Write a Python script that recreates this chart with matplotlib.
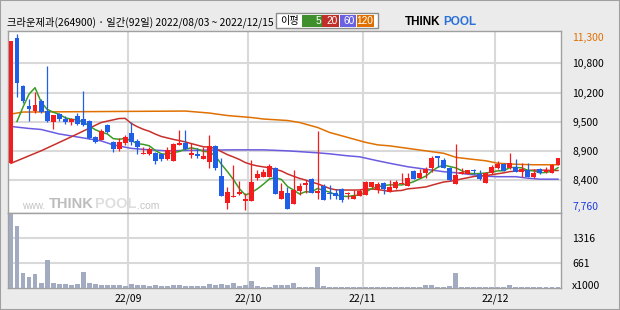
import numpy as np
import pandas as pd
import matplotlib
matplotlib.use("Agg")
import matplotlib.pyplot as plt
from matplotlib.patches import Rectangle

plt.rcParams['font.family'] = ['Noto Sans CJK KR', 'DejaVu Sans']

title = "크라운제과(264900) · 일간(92일) 2022/08/03 ~ 2022/12/15"

# daily candles, 2022/08/03 .. 2022/12/15 (92 trading days)
opens = [8700, 11210, 10250, 9850, 9750, 9950, 9750, 9520, 9690, 9600,
         9540, 9650, 9600, 9560, 9230, 9170, 9460, 9120, 8990, 9110,
         9300, 9150, 8880, 8890, 8900, 8880, 8790, 8750, 9070, 9100,
         8870, 8890, 8790, 8730, 9050, 8450, 7900, 8020, 8080, 7950,
         7950, 8410, 8430, 8430, 8610, 7980, 8110, 7880, 8140, 8260,
         8380, 8110, 8240, 8110, 8100, 8180, 8080, 7980, 8050, 8060,
         8220, 8160, 8310, 8130, 8210, 8280, 8250, 8550, 8410, 8510,
         8610, 8850, 8770, 8610, 8280, 8480, 8480, 8570, 8480, 8310,
         8500, 8610, 8690, 8600, 8630, 8520, 8570, 8430, 8580, 8530,
         8510, 8670]
highs = [11160, 11300, 10270, 9990, 10140, 9990, 10660, 9670, 9710, 9650,
         9620, 9710, 10150, 9570, 9250, 9390, 9480, 9150, 9200, 9270,
         9540, 9190, 9020, 9020, 8930, 8900, 9030, 9100, 9360, 9360,
         9100, 9010, 9030, 9260, 9070, 8810, 8230, 8670, 8350, 8100,
         8770, 8560, 8580, 8680, 8630, 8300, 8230, 8560, 8300, 8360,
         8400, 9340, 8280, 8260, 8180, 8200, 8130, 8160, 8180, 8350,
         8330, 8330, 8330, 8360, 8360, 8510, 8510, 8570, 8580, 8630,
         8850, 8850, 8810, 8630, 9090, 8600, 8570, 8590, 8570, 8530,
         8670, 8750, 8710, 8900, 8780, 8700, 8700, 8580, 8600, 8630,
         8680, 8810]
lows = [8700, 10040, 9910, 9560, 9710, 9710, 9520, 9390, 9560, 9490,
        9460, 9470, 9440, 9180, 9110, 9170, 9300, 8930, 8950, 9070,
        9070, 8890, 8880, 8870, 8680, 8750, 8770, 8750, 9070, 8970,
        8800, 8810, 8790, 8600, 8570, 8050, 7790, 8020, 8060, 7760,
        7950, 8360, 8430, 8430, 8080, 7980, 7780, 7880, 8060, 8100,
        8100, 7990, 7960, 7990, 7980, 7930, 7980, 7980, 8050, 8060,
        8200, 8100, 8080, 8120, 8180, 8280, 8250, 8380, 8410, 8410,
        8520, 8620, 8600, 8350, 8280, 8480, 8480, 8480, 8360, 8310,
        8480, 8580, 8550, 8580, 8520, 8430, 8430, 8410, 8480, 8500,
        8510, 8670]
closes = [11160, 10310, 9960, 9800, 9870, 9740, 9560, 9670, 9590, 9520,
          9590, 9490, 9470, 9200, 9130, 9340, 9320, 8990, 9130, 9220,
          9120, 9020, 8910, 8990, 8750, 8780, 8970, 9080, 9110, 8980,
          8910, 8850, 8850, 9050, 8600, 8050, 8120, 8050, 8120, 7960,
          8320, 8480, 8520, 8650, 8080, 8140, 7780, 8160, 8250, 8310,
          8110, 8140, 7960, 8080, 8050, 7960, 8110, 8050, 8150, 8330,
          8320, 8280, 8180, 8220, 8330, 8310, 8410, 8380, 8510, 8590,
          8810, 8810, 8600, 8360, 8460, 8520, 8570, 8540, 8380, 8510,
          8620, 8690, 8550, 8700, 8520, 8580, 8430, 8500, 8510, 8570,
          8670, 8810]
# volume in thousand shares
volumes = [1930, 1615, 385, 280, 360, 120, 725, 120, 95, 95,
           80, 95, 410, 120, 95, 70, 70, 70, 70, 50,
           95, 75, 70, 40, 75, 40, 40, 70, 70, 45,
           60, 40, 40, 95, 80, 95, 80, 120, 45, 80,
           175, 65, 35, 35, 70, 70, 70, 120, 35, 35,
           35, 540, 60, 30, 30, 30, 30, 30, 30, 30,
           30, 30, 30, 30, 30, 30, 30, 30, 30, 70,
           70, 30, 30, 40, 385, 30, 30, 30, 30, 30,
           30, 30, 30, 70, 30, 30, 30, 30, 30, 30,
           30, 30]

ma5_head_idx = [1, 2, 3]
ma5_head_val = [9540, 9830, 10090]
ma20_head_idx = [0, 5, 10, 15, 18]
ma20_head_val = [8700, 8950, 9230, 9520, 9600]
ma60_idx = [0, 3, 5, 8, 10, 15, 17, 20, 23, 26, 30, 37, 42, 46, 51, 53, 56,
            58, 61, 63, 66, 69, 72, 74, 76, 79, 81, 84, 86, 88, 91]
ma60_val = [9440, 9400, 9380, 9290, 9250, 9150, 9070, 9000, 8970, 8950, 8960,
            8970, 8970, 8950, 8910, 8890, 8850, 8830, 8750, 8700, 8630, 8580,
            8530, 8510, 8480, 8440, 8430, 8430, 8400, 8380, 8380]
ma120_idx = [0, 2, 15, 29, 33, 36, 40, 42, 46, 48, 51, 53, 56, 59, 61, 63,
             66, 69, 72, 74, 76, 79, 81, 84, 87, 91]
ma120_val = [9690, 9730, 9740, 9750, 9710, 9660, 9620, 9590, 9560, 9520, 9420,
             9320, 9220, 9120, 9070, 9050, 9000, 8950, 8900, 8820, 8790, 8750,
             8700, 8680, 8670, 8670]

month_start_idx = [20, 40, 59, 81]
month_labels = ['22/09', '22/10', '22/11', '22/12']
price_labels = ['10,800', '10,200', '9,500', '8,900', '8,400']
price_max_label = '11,300'
price_min_label = '7,760'
vol_ticks = [661, 1316]
vol_labels = ['661', '1316']

W, H = 620, 310
BG = '#ebebeb'
GRID = '#d9d9d9'
UP = '#f41c1c'
DOWN = '#1f5ee6'
C5, C20, C60, C120 = '#3c9a26', '#c8302c', '#6a5ce0', '#e07000'

fig = plt.figure(figsize=(W / 100, H / 100), dpi=100, facecolor=BG)
ax = fig.add_axes([7.5 / W, 1 - 212.5 / H, (561 - 7.5) / W, (212.5 - 31) / H])
axv = fig.add_axes([7.5 / W, 1 - 288 / H, (561 - 7.5) / W, (288 - 212.5) / H], sharex=ax)

n = len(closes)
x = np.arange(n)
o = np.array(opens)
c = np.array(closes)
hi = np.array(highs)
lo = np.array(lows)
col = np.where(c >= o, UP, DOWN)

# moving averages
cs = pd.Series(closes)
ma5 = cs.rolling(5).mean()
ma20 = cs.rolling(20).mean()
ax.plot(ma120_idx, ma120_val, color=C120, lw=1.1, zorder=2)
ax.plot(ma60_idx, ma60_val, color=C60, lw=1.1, zorder=2)
ax.plot(ma20_head_idx + list(range(19, n)), ma20_head_val + ma20[19:].tolist(),
        color=C20, lw=1.1, zorder=2)
ax.plot(ma5_head_idx + list(range(4, n)), ma5_head_val + ma5[4:].tolist(),
        color=C5, lw=1.1, zorder=2)

# candles
ax.vlines(x, lo, hi, colors=col, lw=0.9, zorder=3)
ax.bar(x, np.maximum(np.abs(c - o), 25), bottom=np.minimum(o, c), width=0.82,
       color=col, lw=0, zorder=4)

ax.set_xlim(-0.58, 91.5)
ax.set_ylim(7710, 11360)
grid_y = np.linspace(10710, 8360, 5)
ax.set_yticks(grid_y, price_labels)
ax.set_xticks(np.array(month_start_idx) - 0.5)
ax.tick_params(axis='x', labelbottom=False, length=0)
ax.yaxis.tick_right()
ax.tick_params(axis='y', length=0, pad=8, labelsize=7.5)
ax.grid(True, color=GRID, lw=1.5, zorder=0)
ax.set_axisbelow(True)
ytr = ax.get_yaxis_transform()
ax.annotate(price_max_label, xy=(1, 11300), xycoords=ytr, xytext=(8, -2.7),
            textcoords='offset points', va='center', ha='left', fontsize=7.5, color='#e07000')
ax.annotate(price_min_label, xy=(1, 7760), xycoords=ytr, xytext=(8, 2.2),
            textcoords='offset points', va='center', ha='left', fontsize=7.5, color='#1e3cdc')

# volume
axv.bar(x, volumes, width=0.82, color='#a3abc0', lw=0, zorder=3)
axv.set_ylim(0, 1970)
axv.set_yticks(vol_ticks, vol_labels)
axv.yaxis.tick_right()
axv.tick_params(axis='y', length=0, pad=8, labelsize=7.5)
axv.set_xticks(np.array(month_start_idx) - 0.5, month_labels)
axv.tick_params(axis='x', length=0, pad=4, labelsize=7.5)
axv.grid(True, color=GRID, lw=1.5, zorder=0)
axv.set_axisbelow(True)
axv.annotate('x1000', xy=(1, 0), xycoords=axv.get_yaxis_transform(), xytext=(8, 1.5),
             textcoords='offset points', va='center', ha='left', fontsize=7.5)

for a in (ax, axv):
    a.set_facecolor('white')
    for s in a.spines.values():
        s.set_color('#a0a0a0')
        s.set_linewidth(1)

# watermark
wm = '#c4c4c4'
fig.text(22 / W, 1 - 206 / H, 'www.', fontsize=7, color=wm, va='center', ha='left', family='Liberation Sans')
fig.text(49 / W, 1 - 204 / H, 'THINK', fontsize=10.5, color='#bdbdbd', weight='bold', va='center', ha='left', family='Liberation Sans')
fig.text(95 / W, 1 - 204 / H, 'POOL', fontsize=10.5, color='#dedede', weight='bold', va='center', ha='left', family='Liberation Sans')
fig.text(137 / W, 1 - 206 / H, '.com', fontsize=7.5, color=wm, va='center', ha='left', family='Liberation Sans')

# header
fig.text(7 / W, 1 - 22 / H, title, fontsize=7.4, va='center', ha='left')
fig.patches.append(Rectangle((276 / W, 1 - 28.3 / H), 101.7 / W, 15.3 / H, transform=fig.transFigure,
                             facecolor='white', edgecolor='#8c8c8c', lw=1))
fig.text(280 / W, 1 - 21 / H, '이평', fontsize=7.3, va='center', ha='left')
legend_boxes = [(302, 322, '5', '#3f8f2c'), (322, 338.5, '20', '#c0302a'),
                (339.5, 356, '60', '#6a62e0'), (357, 374, '120', '#df7000')]
for x0, x1, lab, cc in legend_boxes:
    fig.patches.append(Rectangle((x0 / W, 1 - 27 / H), (x1 - x0) / W, 12.5 / H,
                                 transform=fig.transFigure, facecolor=cc, lw=0))
    fig.text((x1 - 1) / W, 1 - 21 / H, lab, fontsize=7.3, color='white', va='center', ha='right',
             family='Liberation Sans')
fig.text(405 / W, 1 - 22 / H, 'THINK', fontsize=8.5, weight='heavy', va='center', ha='left',
         family='Liberation Sans')
fig.text(443 / W, 1 - 22 / H, 'POOL', fontsize=8.5, weight='heavy', color='#2a70d8', va='center', ha='left',
         family='Liberation Sans')

fig.patches.append(Rectangle((0, 0), 1, 1, transform=fig.transFigure, fill=False,
                             edgecolor='#a0a0a0', lw=1.5))

fig.savefig('out.png', dpi=100, facecolor=BG)
